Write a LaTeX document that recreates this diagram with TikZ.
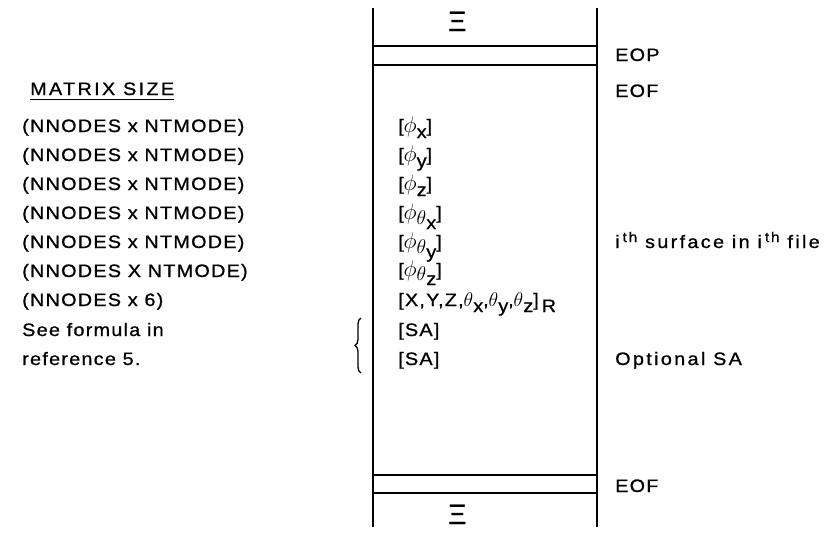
\documentclass[tikz,border=0pt]{standalone}
\usepackage{fontspec}
\setmainfont{Liberation Sans}[FakeStretch=1.1, LetterSpace=7, FakeBold=0.9]
\newfontfamily\xifont{Liberation Sans}[FakeBold=0.6]
\usetikzlibrary{decorations.pathreplacing}
\newcommand{\lo}[1]{\raisebox{-6pt}{#1}}
\newcommand{\hi}[1]{\raisebox{6pt}{\fontsize{14}{14}\selectfont #1}}
\newcommand{\bphi}{\scalebox{1.3}{$\phi$}}
\newcommand{\bth}{\scalebox{1.15}{$\theta$}}
\begin{document}
\begin{tikzpicture}[x=1pt,y=-1pt,
  txt/.style={anchor=base west, inner sep=0pt, font=\fontsize{18}{18}\selectfont},
  wide/.style={txt, font=\fontsize{18}{18}\selectfont\addfontfeature{LetterSpace=13}},
  xi/.style={anchor=base west, inner sep=0pt, font=\xifont\fontsize{28}{28}\selectfont},
  frame/.style={line width=1.6pt},
  bar/.style={line width=1.4pt}]
\useasboundingbox (0,0) rectangle (827,533);
% frame
\draw[frame] (373,8) -- (373,527);
\draw[frame] (597,8) -- (597,527);
\draw[bar] (373,46) -- (597,46);
\draw[bar] (373,65) -- (597,65);
\draw[bar] (373,475) -- (597,475);
\draw[bar] (373,493) -- (597,493);
\node[xi] (xitop) at (448,31) {Ξ};
\node[xi] (xibot) at (448,524) {Ξ};
% left column
\node[wide] (ms) at (30,95) {MATRIX SIZE};
\draw[line width=1.1pt] ([yshift=-4pt]ms.south west) -- ([yshift=-4pt]ms.south east);
\node[txt] (l1) at (22,132) {(NNODES x NTMODE)};
\node[txt] (l2) at (22,161) {(NNODES x NTMODE)};
\node[txt] (l3) at (22,190) {(NNODES x NTMODE)};
\node[txt] (l4) at (22,219) {(NNODES x NTMODE)};
\node[txt] (l5) at (22,248) {(NNODES x NTMODE)};
\node[txt] (l6) at (22,277) {(NNODES X NTMODE)};
\node[txt] (l7) at (22,306) {(NNODES x 6)};
\node[txt] (l8) at (22,336) {See formula in};
\node[txt] (l9) at (22,365) {reference 5.};
% brace
\coordinate (bb) at (361,373);
\coordinate (bt) at (361,318);
\draw[line width=1.3pt, decorate, decoration={brace, amplitude=6pt}] (bb) -- (bt);
% middle column
\node[txt] (m1) at (398,132) {[\bphi\lo{x}]};
\node[txt] (m2) at (398,161) {[\bphi\lo{y}]};
\node[txt] (m3) at (398,190) {[\bphi\lo{z}]};
\node[txt] (m4) at (398,219) {[\bphi\raisebox{-5pt}{\bth\raisebox{-5pt}{x}}]};
\node[txt] (m5) at (398,248) {[\bphi\raisebox{-5pt}{\bth\raisebox{-5pt}{y}}]};
\node[txt] (m6) at (398,276) {[\bphi\raisebox{-4pt}{\bth\raisebox{-5pt}{z}}]};
\node[txt] (m7) at (398,306) {[X,Y,Z,\bth\lo{x},\bth\lo{y},\bth\lo{z}]\,\lo{R}};
\node[txt] (m8) at (398,336) {[SA]};
\node[txt] (m9) at (398,365) {[SA]};
% right column
\node[txt] (eop) at (615,61) {EOP};
\node[txt] (eof1) at (615,97) {EOF};
\node[wide] (ith) at (615,248) {i\,\hi{th} surface in i\,\hi{th} file};
\node[wide] (osa) at (615,365) {Optional SA};
\node[txt] (eof2) at (615,492) {EOF};
\end{tikzpicture}
\end{document}
